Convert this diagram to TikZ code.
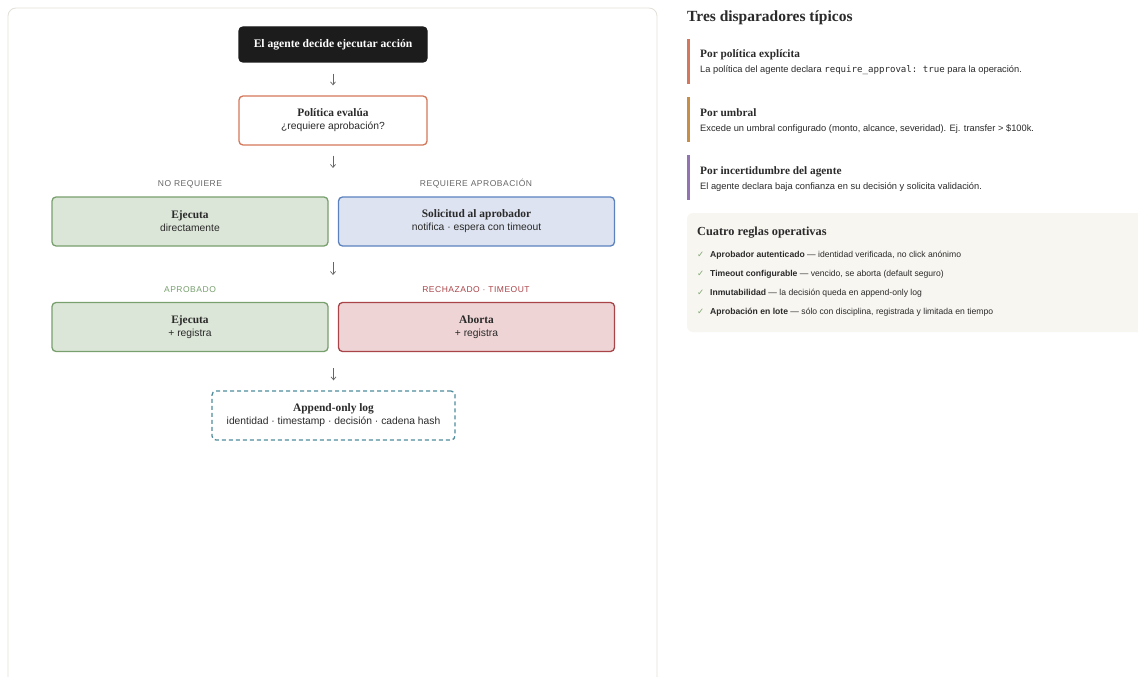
\documentclass[tikz,border=0pt]{standalone}
\usepackage{fontspec}
\setmainfont{Liberation Serif}
\setsansfont{Liberation Sans}
\setmonofont{DejaVu Sans Mono}
\newfontfamily\symfont{DejaVu Sans}
\newfontfamily\capsfont[LetterSpace=6]{Liberation Sans}
\usetikzlibrary{arrows.meta}
\definecolor{panelborder}{HTML}{E3E0D8}
\definecolor{ink}{HTML}{1C1C1C}
\definecolor{txt}{HTML}{2A2A2A}
\definecolor{corange}{HTML}{D4775A}
\definecolor{cgreen}{HTML}{78A06E}
\definecolor{cgreenfill}{HTML}{DCE6D8}
\definecolor{cblue}{HTML}{5B82BE}
\definecolor{cbluefill}{HTML}{DDE3F0}
\definecolor{cred}{HTML}{A94449}
\definecolor{credfill}{HTML}{EFD4D5}
\definecolor{cteal}{HTML}{4E8C9C}
\definecolor{clabel}{HTML}{666666}
\definecolor{rulesbg}{HTML}{F8F6F1}
\definecolor{camber}{HTML}{C68F45}
\definecolor{cpurple}{HTML}{9274B5}
\definecolor{ccheck}{HTML}{7FA872}
\newcommand{\boxtitle}[1]{{\fontsize{11.4}{13}\selectfont\bfseries #1}}
\newcommand{\boxsub}[1]{{\sffamily\fontsize{10.3}{12}\selectfont #1}}
\begin{document}
\begin{tikzpicture}[x=1pt,y=-1pt,
  box/.style={rounded corners=4pt, line width=1.3pt, minimum height=49pt, align=center, inner sep=0pt, text=txt},
  wide/.style={box, minimum width=276pt},
  flow/.style={draw=clabel, line width=0.7pt, -{Straight Barb[length=3pt,width=5pt]}},
  lbl/.style={font=\capsfont\fontsize{8.5}{10}\selectfont, inner sep=0pt},
  txtnode/.style={anchor=base west, inner sep=0pt, text=txt},
  bar/.style={line width=3pt}
]
\useasboundingbox (0,0) rectangle (1138,677);
\fill[white] (0,0) rectangle (1138,677);
% left panel
\draw[panelborder, line width=0.8pt, fill=white, rounded corners=8pt] (8,690) -- (8,8) -- (657,8) -- (657,690);

\node[box, fill=ink, draw=ink, minimum width=188pt, minimum height=35pt, text=white,
  font=\fontsize{11.6}{13}\selectfont\bfseries] (top) at (333,44.5) {El agente decide ejecutar acción};

\node[box, fill=white, draw=corange, minimum width=188pt] (pol) at (333,120.5)
  {\boxtitle{Política evalúa}\\[1pt]\boxsub{¿requiere aprobación?}};

\node[lbl, text=clabel] (lno) at (190,184) {NO REQUIERE};
\node[lbl, text=clabel] (lsi) at (476,184) {REQUIERE APROBACIÓN};

\node[wide, fill=cgreenfill, draw=cgreen] (ej1) at (190,221.5)
  {\boxtitle{Ejecuta}\\[1pt]\boxsub{directamente}};
\node[wide, fill=cbluefill, draw=cblue] (sol) at (476.5,221.5)
  {\boxtitle{Solicitud al aprobador}\\[1pt]\boxsub{notifica · espera con timeout}};

\node[lbl, text=cgreen] (lap) at (190,290) {APROBADO};
\node[lbl, text=cred] (lre) at (476,290) {RECHAZADO · TIMEOUT};

\node[wide, fill=cgreenfill, draw=cgreen] (ej2) at (190,327)
  {\boxtitle{Ejecuta}\\[1pt]\boxsub{+ registra}};
\node[wide, fill=credfill, draw=cred] (abo) at (476.5,327)
  {\boxtitle{Aborta}\\[1pt]\boxsub{+ registra}};

\node[box, fill=white, draw=cteal, dashed, dash pattern=on 4pt off 3pt, minimum width=243pt] (log) at (333.5,415.5)
  {\boxtitle{Append-only log}\\[1pt]\boxsub{identidad · timestamp · decisión · cadena hash}};

\coordinate (c1) at (333,178);
\coordinate (c2a) at (333,246);
\coordinate (c2b) at (333,285);
\draw[flow, shorten <=11pt, shorten >=10pt] (top) -- (pol);
\draw[flow, shorten <=10pt, shorten >=10pt] (pol) -- (c1);
\draw[flow, shorten <=16pt, shorten >=10pt] (c2a) -- (c2b);
\draw[flow, shorten <=16pt, shorten >=10pt] (abo.south -| log.north) -- (log);

% right panel
\node[txtnode, font=\fontsize{15.5}{17}\selectfont\bfseries] (h1) at (687,22) {Tres disparadores típicos};

\draw[bar, corange] (688.5,39) -- (688.5,84);
\node[txtnode, font=\fontsize{11.3}{13}\selectfont\bfseries] (t1) at (700,58) {Por política explícita};
\node[txtnode, font=\sffamily\fontsize{9.3}{11}\selectfont] (d1) at (700,73) {La política del agente declara {\ttfamily\fontsize{9.1}{11}\selectfont require\_approval:\ true} para la operación.};

\draw[bar, camber] (688.5,97) -- (688.5,142);
\node[txtnode, font=\fontsize{11.3}{13}\selectfont\bfseries] (t2) at (700,116) {Por umbral};
\node[txtnode, font=\sffamily\fontsize{9.3}{11}\selectfont] (d2) at (700,131) {Excede un umbral configurado (monto, alcance, severidad). Ej. transfer > \$100k.};

\draw[bar, cpurple] (688.5,155) -- (688.5,200);
\node[txtnode, font=\fontsize{11.3}{13}\selectfont\bfseries] (t3) at (700,174) {Por incertidumbre del agente};
\node[txtnode, font=\sffamily\fontsize{9.3}{11}\selectfont] (d3) at (700,189) {El agente declara baja confianza en su decisión y solicita validación.};

\fill[rulesbg, rounded corners=6pt] (687,213) rectangle (1150,332);
\node[txtnode, font=\fontsize{12.3}{14}\selectfont\bfseries] (h2) at (697,235) {Cuatro reglas operativas};
\foreach \y/\b/\r [count=\i] in {257/Aprobador autenticado/identidad verificada{,} no click anónimo,
  276/Timeout configurable/vencido{,} se aborta (default seguro),
  295/Inmutabilidad/la decisión queda en append-only log,
  314/Aprobación en lote/sólo con disciplina{,} registrada y limitada en tiempo}{
  \node[txtnode, font=\symfont\fontsize{8.5}{10}\selectfont, text=ccheck] (k\i) at (697,\y) {✓};
  \node[txtnode, font=\sffamily\fontsize{8.6}{10}\selectfont] (r\i) at (710,\y) {\textbf{\b} — \r};
}
\end{tikzpicture}
\end{document}
